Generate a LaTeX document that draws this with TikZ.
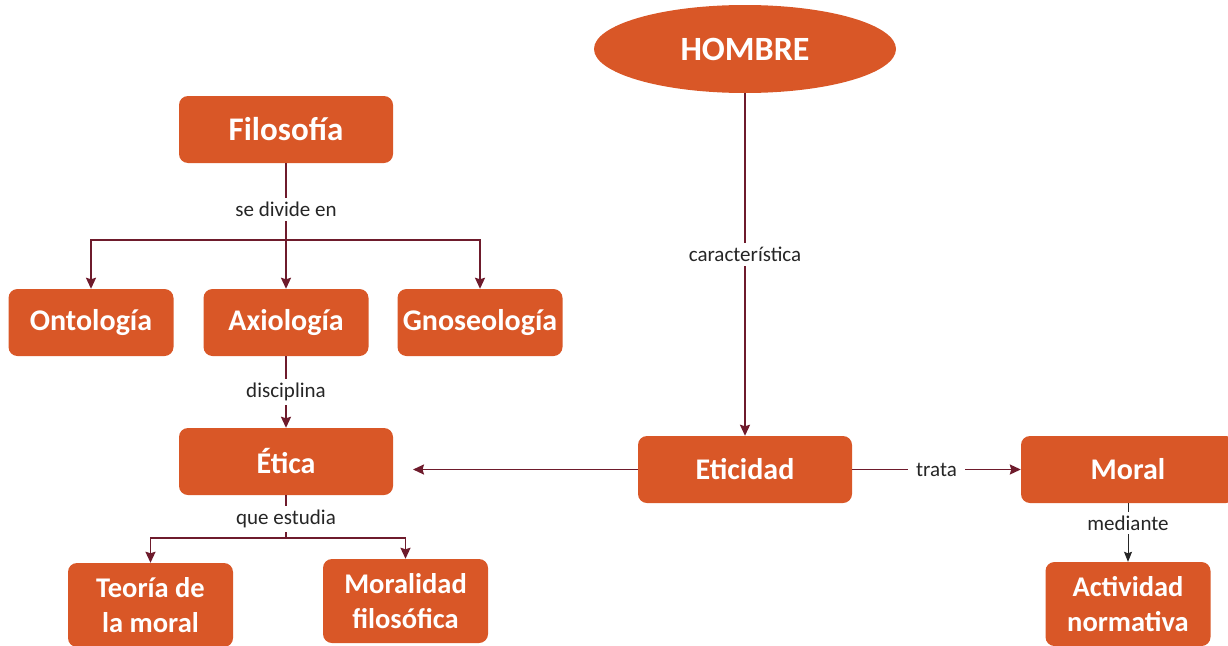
\documentclass[tikz,border=0pt]{standalone}
\usepackage{fontspec}
\setmainfont{Carlito}
\usetikzlibrary{arrows.meta,shapes.geometric}
\definecolor{naranja}{HTML}{D95727}
\definecolor{granate}{HTML}{6E1B2C}
\definecolor{gristexto}{HTML}{262626}
\begin{document}
\begin{tikzpicture}[x=1pt,y=-1pt]
  \tikzset{caja/.style={rectangle,rounded corners=9pt,fill=naranja,text=white,
      font=\bfseries\fontsize{30}{36}\selectfont,minimum width=214pt,
      minimum height=67pt,inner sep=0pt,align=center},
    cajachica/.style={caja,minimum width=165pt},
    cajadoble/.style={cajachica,minimum height=84pt,
      font=\bfseries\fontsize{28.5}{35}\selectfont},
    etiqueta/.style={fill=white,text=gristexto,inner sep=4pt,
      font=\fontsize{21}{25}\selectfont},
    linea/.style={draw=granate,line width=1.9pt},
    flecha/.style={linea,-{Stealth[length=11pt,width=10pt,inset=1.5pt]}},
    flechanegra/.style={draw=gristexto,line width=0.9pt,
      -{Stealth[length=10pt,width=8pt,inset=1.5pt]}}}

  %% Page size of the reference, the boxes on the right and at the
  %% bottom run off the page so we clip them.
  \useasboundingbox (0,0) rectangle (1228,645);
  \clip (0,0) rectangle (1228,645);

  %% Boxes
  \node (hombre) at (745,49) [ellipse,fill=naranja,text=white,inner sep=0pt,
    minimum width=302pt,minimum height=88pt,
    font=\bfseries\fontsize{34}{40}\selectfont] {HOMBRE};
  \node (filosofia) at (286,129.5) [caja,font=\bfseries\fontsize{33}{40}\selectfont] {Filosofía};
  \node (ontologia) at (91,322.5) [cajachica] {Ontología};
  \node (axiologia) at (286,322.5) [cajachica] {Axiología};
  \node (gnoseologia) at (480,322.5) [cajachica] {Gnoseología};
  \node (etica) at (286,461.5) [caja] {Ética};
  \node (teoria) at (150.5,605) [cajadoble] {Teoría de\\la moral};
  \node (moralidad) at (405.5,601) [cajadoble] {Moralidad\\filosófica};
  \node (eticidad) at (745,469.5) [caja] {Eticidad};
  \node (moral) at (1128,469.5) [caja] {Moral};
  \node (actividad) at (1128,604) [cajadoble] {Actividad\\normativa};

  %% Branch points and the loose end of the arrow to Ética
  \coordinate (divide) at (286,240);
  \coordinate (estudia) at (286,538);
  \coordinate (haciaetica) at (413,469.5);

  %% Connectors
  \draw[linea] (filosofia) -- node[etiqueta,pos=0.6] {se divide en} (divide);
  \draw[flecha] (divide) -| (ontologia);
  \draw[flecha] (divide) -- (axiologia);
  \draw[flecha] (divide) -| (gnoseologia);
  \draw[flecha] (axiologia) -- node[etiqueta] {disciplina} (etica);
  \draw[linea] (etica) -- node[etiqueta,pos=0.56] {que estudia} (estudia);
  \draw[flecha] (estudia) -| (teoria);
  \draw[flecha] (estudia) -| (moralidad);
  \draw[flecha] (hombre) -- node[etiqueta,pos=0.47] {característica} (eticidad);
  \draw[flecha] (eticidad) -- (haciaetica);
  \draw[flecha] (eticidad) -- node[etiqueta,inner xsep=8pt] {trata} (moral);
  \draw[flechanegra] (moral) -- node[etiqueta,pos=0.34] {mediante} (actividad);

\end{tikzpicture}
\end{document}
